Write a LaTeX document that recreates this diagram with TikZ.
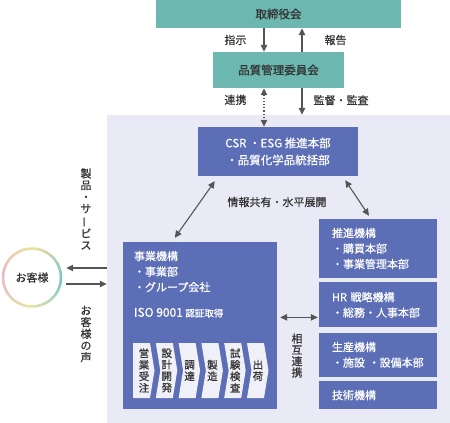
\documentclass[tikz,border=0pt]{standalone}
\usepackage{fontspec}
\usepackage{graphicx}
\newfontfamily\jp[FakeBold=0.6]{Noto Sans CJK JP}
\usetikzlibrary{arrows.meta,positioning,calc}
\definecolor{boardteal}{HTML}{6CB7AF}
\definecolor{orgblue}{HTML}{5C6EB5}
\definecolor{bglav}{HTML}{E9EAF6}
\definecolor{flowfill}{HTML}{F0F0F9}
\definecolor{txtgray}{HTML}{333333}
\definecolor{arrgray}{HTML}{555555}
\definecolor{ringteal}{HTML}{7CC3C6}
\definecolor{ringyel}{HTML}{EEE2A2}
\definecolor{ringpink}{HTML}{E7B7C4}
\definecolor{ringlime}{HTML}{E2E7A6}
\newcommand{\vbar}{\rotatebox[origin=c]{90}{ー}}

\begin{document}
\begin{tikzpicture}[x=1pt, y=-1pt,
    font=\jp\fontsize{11}{14}\selectfont,
    tealbox/.style={rectangle, fill=boardteal, text=txtgray, inner sep=0pt, font=\jp\fontsize{11.5}{14}\selectfont},
    orgbox/.style={rectangle, fill=orgblue, text=white, align=left, text width=92pt, inner xsep=13pt, inner ysep=0pt, font=\jp\fontsize{11}{15.5}\selectfont},
    lbl/.style={text=txtgray, inner sep=0pt},
    vlbl/.style={text=txtgray, inner sep=0pt, align=center, font=\jp\fontsize{11}{11.7}\selectfont},
    arrow/.style={-{Triangle[length=7pt, width=6.5pt]}, line width=1.1pt, draw=arrgray},
    dblarrow/.style={{Triangle[length=7pt, width=6.5pt]}-{Triangle[length=7pt, width=6.5pt]}, line width=1.1pt, draw=arrgray}
  ]
    \useasboundingbox (0,0) rectangle (450,423);
    % background area
    \node[rectangle, fill=bglav, minimum width=343pt, minimum height=308pt, inner sep=0pt] (bg) at (278.5,269) {};
    % top boxes
    \node[tealbox, minimum width=245pt, minimum height=28pt] (board) at (278.5,14) {取締役会};
    \node[tealbox, minimum width=131pt, minimum height=36pt] (qc) at (278.5,70) {品質管理委員会};
    \node[rectangle, fill=orgblue, text=white, align=center, inner sep=0pt, minimum width=160pt, minimum height=49pt,
      font=\jp\fontsize{11.5}{17}\selectfont] (csr) at (278,151.5) {CSR ・ESG 推進本部\\・品質化学品統括部};
    % business organization
    \node[rectangle, fill=orgblue, minimum width=154pt, minimum height=167pt, inner sep=0pt] (biz) at (200,325.5) {};
    \node[anchor=north west, text=white, align=left, inner sep=0pt, font=\jp\fontsize{11}{15.5}\selectfont]
      (biztxt) at ($(biz.north west)+(11,9)$) {事業機構\\・事業部\\・グループ会社\\[10pt]{\fontsize{12}{15.5}\selectfont ISO 9001} {\fontsize{9.5}{12}\selectfont 認証取得}};
    \foreach \t [count=\i from 0] in {{営\\業\\受\\注}, {設\\計\\開\\発}, {調\\達}, {製\\造}, {試\\験\\検\\査}, {出\\荷}} {
      \pgfmathsetmacro\px{133+22.8*\i}
      \ifnum\i=0
        \fill[flowfill] (\px,343) -- ++(17,0) -- ++(4.5,27.5) -- ++(-4.5,27.5) -- ++(-17,0) -- cycle;
      \else
        \fill[flowfill] (\px,343) -- ++(17,0) -- ++(4.5,27.5) -- ++(-4.5,27.5) -- ++(-17,0) -- ++(4.5,-27.5) -- cycle;
      \fi
      \node[vlbl, font=\jp\fontsize{10.5}{11.5}\selectfont] (flow\i) at (\px+11,370.5) {\t};
    }
    % right organizations
    \node[orgbox, minimum height=59pt] (push) at (378,248.5) {推進機構\\・購買本部\\・事業管理本部};
    \node[orgbox, minimum height=45pt, below=4pt of push] (hr) {HR 戦略機構\\・総務・人事本部};
    \node[orgbox, minimum height=44pt, below=5pt of hr] (prod) {生産機構\\・施設 ・設備本部};
    \node[orgbox, minimum height=28pt, below=4pt of prod] (tech) {技術機構};
    % customer
    \node[circle, fill=white, minimum size=60pt, inner sep=0pt, text=txtgray] (cust) at (32,277.5) {お客様};
    \foreach \s/\ca/\cb in {0/ringteal/ringlime, 90/ringlime/ringpink, 180/ringpink/ringyel, 270/ringyel/ringteal} {
      \foreach \t in {0,6,...,84} {
        \pgfmathtruncatemacro\p{100-\t/90*100}
        \draw[line width=2.5pt, \ca!\p!\cb] (cust.center) ++(\s+\t:29) arc[start angle=\s+\t, end angle=\s+\t+7, radius=29];
      }
    }
    % connectors
    \draw[arrow] ([xshift=-14.5pt]board.south) -- node[lbl, left=17pt] {指示} ([xshift=-14.5pt]qc.north);
    \draw[arrow] ([xshift=23.5pt]qc.north) -- node[lbl, right=22pt] {報告} ([xshift=23.5pt]board.south);
    \draw[dblarrow, dotted] ([xshift=-14.5pt]qc.south) -- node[lbl, left=17pt, pos=0.3] {連携} ([xshift=-14pt]csr.north);
    \draw[arrow] ([xshift=23.5pt]qc.south) -- node[lbl, right=11pt, pos=0.45] {監督・監査} ([xshift=23.5pt]bg.north);
    \draw[dblarrow] ($(csr.south west)+(17,5)$) -- ($(biz.north west)+(52,-4)$);
    \draw[dblarrow] ($(csr.south east)+(-13,4)$) -- ($(push.north)+(-9,-3)$);
    \node[lbl] (share) at (277,202) {情報共有・水平展開};
    \draw[dblarrow] ($(biz.east |- hr.west)+(3,12.5)$) -- ($(hr.west)+(-1,12.5)$);
    \node[vlbl, font=\jp\fontsize{11}{11.3}\selectfont] (mutual) at (297,355.5) {相\\互\\連\\携};
    \draw[arrow] ($(bg.west |- cust.east)+(0,-9.5)$) -- ($(cust.east)+(4,-9.5)$);
    \draw[arrow] ($(cust.east)+(4,6.5)$) -- ($(bg.west |- cust.east)+(0,6.5)$);
    \node[vlbl] (prodlbl) at (86,209) {製\\品\\・\\サ\\\vbar\\ビ\\ス};
    \node[vlbl] (voice) at (86,334) {お\\客\\様\\の\\声};
\end{tikzpicture}
\end{document}
